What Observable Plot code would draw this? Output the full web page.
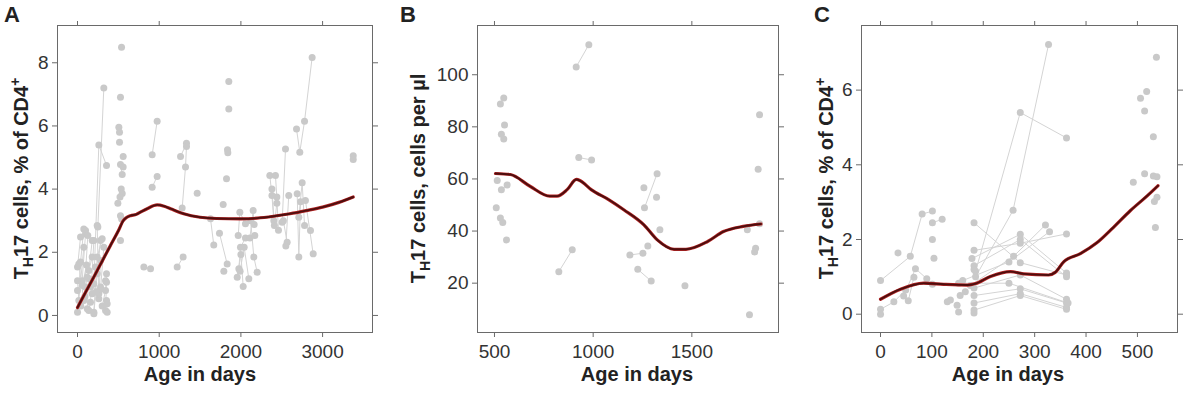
<!DOCTYPE html>
<html><head><meta charset="utf-8">
<script src="https://cdn.jsdelivr.net/npm/d3@7"></script>
<script src="https://cdn.jsdelivr.net/npm/@observablehq/plot@0.6"></script>
<style>
body{margin:0;background:#fff;}
#wrap{position:relative;width:1183px;height:396px;overflow:hidden;}
.panel{position:absolute;top:0;}
</style>
</head><body><div id="wrap"></div>
<script>
// ---------- Panel A : TH17 % of CD4+ vs age (days) ----------
const aSubjects = [
  [[0,0.1],[37,1.69],[77,2.74]],
  [[0,0.79],[57,1.1],[98,2.58]],
  [[0,1.1],[16,0.47],[77,2.16]],
  [[0,1.53],[37,2.48],[98,2.69]],
  [[16,1.63],[77,0.47],[126,2.53]],
  [[98,0.9],[119,1.21],[180,1.85]],
  [[119,0.21],[138,1.42],[180,2.37]],
  [[138,0.16],[159,0.42],[200,2.37]],
  [[159,0.9],[180,0.69],[220,1.53]],
  [[200,0.05],[241,1.32],[282,2.37]],
  [[200,0.1],[241,1.85],[302,2.43]],
  [[241,2.85],[261,0.53],[282,1.74]],
  [[261,0.69],[282,0.84],[322,2.16]],
  [[282,0.9],[343,1.1]],
  [[302,0.3],[343,0.79],[355,1.32]],
  [[343,0.16],[355,1.05]],
  [[355,0.47],[363,0.37]],
  [[363,0.1]],
  [[60,0.95],[110,1.6]],[[150,1.15],[230,0.75]],[[40,0.3],[90,0.6]],
  [[249,2.8],[322,7.2]],
  [[200,1.0],[261,5.4],[355,4.75]],
  [[539,8.49]],[[526,6.91]],[[506,5.96]],[[514,5.8]],[[514,5.48]],[[559,5.03]],
  [[526,4.78],[547,4.46]],[[559,4.7]],[[535,4.0],[547,3.86]],[[520,3.75]],[[494,3.55]],
  [[526,3.16],[540,3.05]],[[526,2.37]],
  [[812,1.53],[894,1.48]],
  [[914,4.06],[975,4.4]],
  [[914,5.09],[975,6.15]],
  [[1220,1.53],[1293,1.85]],
  [[1261,5.03],[1334,5.45]],
  [[1281,3.4],[1322,4.7],[1334,5.35]],
  [[1465,3.87]],
  [[1628,3.06],[1668,2.23]],
  [[1738,2.6],[1832,1.63]],
  [[1783,3.51]],[[1791,1.4]],
  [[1852,7.41]],[[1852,6.54]],[[1836,5.25],[1840,5.15]],[[1824,4.33]],
  [[1967,2.53],[1987,3.27],[2056,2.9]],
  [[1975,1.48],[1995,2.16],[2056,2.45]],
  [[1955,1.21],[2000,1.93],[2028,0.92]],
  [[1990,1.4],[2040,2.16],[2097,1.16]],
  [[2120,3.0],[2158,1.85],[2199,1.37]],
  [[2110,2.45],[2150,3.32],[2162,2.88]],
  [[2170,2.53]],
  [[2354,4.43],[2380,3.8],[2403,3.0]],
  [[2423,4.43],[2440,3.75],[2460,2.7]],
  [[2380,4.0],[2410,2.85],[2440,3.55]],
  [[2505,2.95],[2546,5.27]],
  [[2520,3.0],[2566,2.32]],
  [[2550,2.2],[2586,3.8]],
  [[2681,5.9],[2721,5.17],[2779,6.15],[2872,8.17]],
  [[2689,3.85],[2709,1.85],[2730,3.6]],
  [[2709,3.11],[2750,4.2],[2779,2.85],[2852,2.69]],
  [[2790,3.64],[2885,1.95]],
  [[3375,5.06]],[[3375,4.94]]
];
const aCurveDay   = [0,100,200,300,400,500,560,600,650,720,771,853,975,1060,1138,1300,1500,1700,2000,2200,2400,2600,2800,3000,3200,3375];
const aCurveValue = [0.25,0.74,1.22,1.71,2.2,2.68,3.0,3.1,3.16,3.2,3.27,3.38,3.5,3.46,3.38,3.22,3.11,3.07,3.06,3.08,3.14,3.22,3.32,3.43,3.58,3.75];
const aXTicks = [0,1000,2000,3000];
const aYTicks = [0,2,4,6,8];

// ---------- Panel B : TH17 cells per µl vs age ----------
const bSubjects = [
  [[514,59.4]],[[509,48.9]],[[530,88.8],[547,91.1]],[[535,77.2]],[[547,75.3]],[[551,80.7]],
  [[535,55.9],[564,57.7]],[[530,45],[542,43.3]],[[561,36.6]],
  [[826,24.4],[894,32.8]],
  [[914,103],[978,111.5]],
  [[927,68.2],[992,67.3]],
  [[1186,30.8],[1252,31.5]],
  [[1226,25.3],[1294,20.8]],
  [[1260,48.9],[1324,62]],
  [[1257,56.6]],[[1277,34.3]],[[1321,53]],[[1338,40.5]],
  [[1465,19]],
  [[1792,7.9]],[[1781,40.5]],[[1823,33.4]],[[1818,32]],[[1836,63.7]],[[1843,84.6]],[[1843,42.8]]
];
const bCurveDay   = [505,580,680,780,817,868,915,935,990,1080,1155,1257,1325,1410,1470,1580,1660,1760,1850];
const bCurveValue = [62.1,61.7,57.2,53.4,53.4,55.9,59.8,59.3,55.9,52,48.2,42.4,36.6,33,33,36,39.8,41.8,42.7];
const bXTicks = [500,1000,1500];
const bYTicks = [20,40,60,80,100];

// ---------- Panel C : TH17 % of CD4+ vs age (first 1.5 years) ----------
const cSubjects = [
  [[0,0.9],[58,1.55],[81,2.68],[101,2.76]],
  [[101,2.45],[120,2.54]],
  [[34,1.64]],
  [[0,0.13],[26,0.33],[49,0.65]],
  [[0,0.0]],
  [[45,0.49],[68,1.22],[90,0.95]],
  [[54,0.36],[65,0.99]],
  [[101,2.0]],[[104,1.5]],[[101,0.8]],
  [[130,0.33]],[[136,0.38]],
  [[182,0.5],[272,0.68],[362,0.3]],
  [[182,0.3],[272,0.55],[362,0.18]],
  [[182,0.11],[272,0.5],[362,0.13]],
  [[182,0.7],[272,1.05],[362,0.4]],
  [[178,1.49],[272,2.14],[362,1.1]],
  [[182,1.3],[272,2.0],[362,1.0]],
  [[185,1.0],[258,2.78],[327,7.22]],
  [[185,1.15],[272,5.4],[362,4.72]],
  [[182,2.45],[272,1.38],[362,1.05]],
  [[175,0.77],[259,1.55],[321,2.39]],
  [[160,0.9],[250,1.4],[329,2.21]],
  [[152,0.83],[250,0.83],[365,0.3]],
  [[182,1.71],[272,1.9],[362,2.15]],
  [[149,0.24]],[[155,0.5]],[[165,0.6]],[[152,0.06]],[[182,0.03]],[[182,1.2]],
  [[492,3.53]],[[506,5.78]],[[518,5.96]],[[514,5.44]],[[514,3.76]],[[537,6.88]],
  [[531,4.75]],[[531,3.7]],[[538,3.68]],[[538,3.13]],[[533,3.02]],[[535,2.32]]
];
const cCurveDay   = [0,39,84,123,169,185,214,253,279,327,340,357,389,421,453,486,519,540];
const cCurveValue = [0.4,0.67,0.83,0.8,0.78,0.82,1.01,1.14,1.08,1.05,1.12,1.41,1.62,1.91,2.32,2.77,3.17,3.44];
const cXTicks = [0,100,200,300,400,500];
const cYTicks = [0,2,4,6];

const H = 396;
const FONT = "'Liberation Sans', Arial, Helvetica, sans-serif";

function panel(cfg) {
  const rows = cfg.subjects.flatMap((s, i) => s.map(([d, v]) => ({s: i, d, v})));
  const curve = cfg.curveX.map((d, i) => ({d, v: cfg.curveY[i]}));
  const fmt = d => String(d);
  const svg = Plot.plot({
    width: cfg.width, height: H,
    marginLeft: cfg.ml, marginRight: cfg.mr, marginTop: 25, marginBottom: 64,
    x: {domain: cfg.xDomain, axis: null},
    y: {domain: cfg.yDomain, axis: null},
    style: {fontFamily: FONT, background: "transparent", overflow: "visible", color: "#333"},
    marks: [
      Plot.line(rows, {x: "d", y: "v", z: "s", stroke: "#d4d4d4", strokeWidth: 1}),
      Plot.dot(rows, {x: "d", y: "v", r: 3.5, fill: "#c9c9c9", stroke: "none"}),
      Plot.line(curve, {x: "d", y: "v", stroke: "#b52525", strokeWidth: 3.2, curve: "monotone-x"}),
      Plot.line(curve, {x: "d", y: "v", stroke: "#4d0e0e", strokeWidth: 1.9, curve: "monotone-x"}),
      Plot.frame({stroke: "#6a6a6a"}),
      Plot.axisX({ticks: cfg.xTicks, tickFormat: fmt, anchor: "bottom", tickSize: 5, tickPadding: 7, fontSize: 19, fill: "#333", stroke: "#6a6a6a", label: null}),
      Plot.axisX({ticks: cfg.xTicks, anchor: "top", tickSize: 5, fill: "none", stroke: "#6a6a6a", label: null}),
      Plot.axisY({ticks: cfg.yTicks, tickFormat: fmt, anchor: "left", tickSize: 5, tickPadding: 4, fontSize: 19, fill: "#333", stroke: "#6a6a6a", label: null}),
      Plot.axisY({ticks: cfg.yTicks, anchor: "right", tickSize: 5, fill: "none", stroke: "#6a6a6a", label: null})
    ]
  });
  const div = document.createElement("div");
  div.className = "panel";
  div.style.left = cfg.left + "px";
  div.appendChild(svg);
  document.getElementById("wrap").appendChild(div);

  const g = d3.select(svg).append("g").attr("font-family", FONT).attr("fill", "#222");
  g.append("text").attr("x", cfg.letterX).attr("y", 22)
    .attr("font-size", 22).attr("font-weight", "bold").text(cfg.letter);
  g.append("text").attr("x", cfg.xLabelX).attr("y", 381).attr("text-anchor", "middle")
    .attr("font-size", 20).attr("font-weight", "bold").text("Age in days");
  const t = g.append("text")
    .attr("transform", `translate(${cfg.yLabelX},178.5) rotate(-90)`)
    .attr("text-anchor", "middle").attr("font-size", 20).attr("font-weight", "bold");
  t.append("tspan").text("T");
  t.append("tspan").attr("dy", 5).attr("font-size", 14).text("H");
  t.append("tspan").attr("dy", -5).text(cfg.yRest);
  if (cfg.sup) t.append("tspan").attr("dy", -8).attr("font-size", 14).text(cfg.sup);
}

panel({left: 0, width: 395, ml: 57, mr: 23, xDomain: [-245, 3611], yDomain: [-0.54, 9.18],
  xTicks: aXTicks, yTicks: aYTicks, subjects: aSubjects, curveX: aCurveDay, curveY: aCurveValue,
  letter: "A", letterX: 12, xLabelX: 200, yLabelX: 28, yRest: "17 cells, % of CD4", sup: "+"});
panel({left: 395, width: 395, ml: 82, mr: 12, xDomain: [414, 1939], yDomain: [1.06, 118.9],
  xTicks: bXTicks, yTicks: bYTicks, subjects: bSubjects, curveX: bCurveDay, curveY: bCurveValue,
  letter: "B", letterX: 13, xLabelX: 242, yLabelX: 30, yRest: "17 cells, cells per µl", sup: null});
panel({left: 790, width: 393, ml: 71, mr: 6, xDomain: [-37, 578], yDomain: [-0.49, 7.73],
  xTicks: cXTicks, yTicks: cYTicks, subjects: cSubjects, curveX: cCurveDay, curveY: cCurveValue,
  letter: "C", letterX: 32, xLabelX: 218, yLabelX: 43, yRest: "17 cells, % of CD4", sup: "+"});
</script>
</body></html>
